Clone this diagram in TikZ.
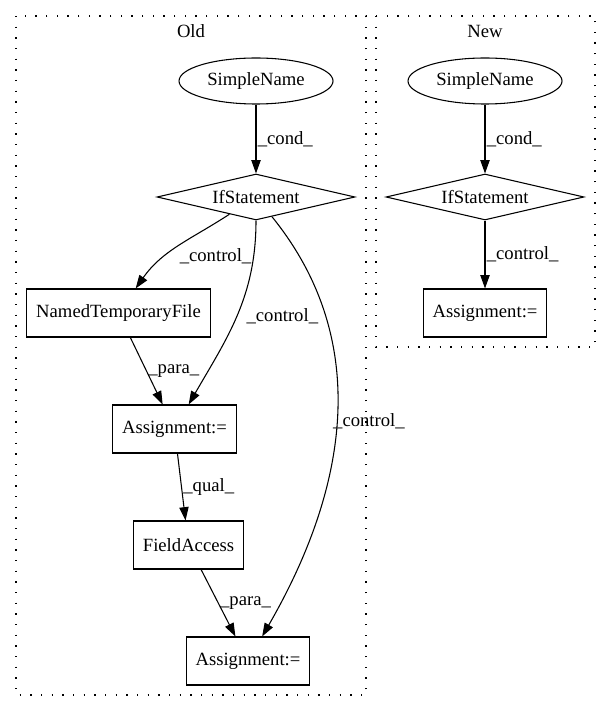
\documentclass[tikz,border=0pt]{standalone}
\usepackage{fontspec}
\setmainfont{Liberation Serif}
\usetikzlibrary{shapes.geometric,arrows.meta}

\tikzset{
  ast/.style={draw, line width=0.8pt, font=\fontsize{14}{16}\selectfont, inner sep=0pt},
  namenode/.style={ast, ellipse, minimum width=115.5pt, minimum height=34.5pt},
  ifnode/.style={ast, diamond, aspect=4.3, minimum width=148.5pt, minimum height=34.5pt},
  stmtnode/.style={ast, rectangle, minimum height=36pt, inner xsep=7pt},
  flow/.style={-{Triangle[length=10pt,width=7pt]}, line width=0.8pt},
  lbl/.style={font=\fontsize{14}{16}\selectfont, anchor=west, inner sep=1pt},
  cluster/.style={line width=0.8pt, dash pattern=on 1pt off 7pt},
}

\begin{document}
\begin{tikzpicture}[x=0.75pt, y=0.75pt]
      \useasboundingbox (0,0) rectangle (611,-712);

      % clusters
      \draw[cluster] (16,-16) rectangle (366,-695);
      \draw[cluster] (376,-16) rectangle (595,-347);
      \node[lbl, anchor=center] (oldtitle) at (191,-31) {Old};
      \node[lbl, anchor=center] (newtitle) at (485,-31) {New};

      % old version
      \node[namenode] (oldname) at (256,-81) {SimpleName};
      \node[ifnode] (oldif) at (256,-197) {IfStatement};
      \node[stmtnode] (tmpfile) at (118.5,-313) {NamedTemporaryFile};
      \node[stmtnode] (oldassign) at (174.5,-429) {Assignment:=};
      \node[stmtnode] (field) at (188.5,-545) {FieldAccess};
      \node[stmtnode] (lastassign) at (248,-661) {Assignment:=};

      % new version
      \node[namenode] (newname) at (485,-81) {SimpleName};
      \node[ifnode] (newif) at (485,-197) {IfStatement};
      \node[stmtnode] (newassign) at (485,-313) {Assignment:=};

      \draw[flow]
        (oldname) edge node[lbl] {\_cond\_} (oldif)
        (oldif) edge[out=213, in=55] node[lbl, anchor=north west] {\_control\_} (tmpfile)
        (oldif) edge[out=-90, in=60] node[lbl, xshift=6pt] {\_control\_} (oldassign)
        (oldif) edge[out=-51, in=60] node[lbl, xshift=-4pt] {\_control\_} (lastassign)
        (tmpfile) edge node[lbl] {\_para\_} (oldassign)
        (oldassign) edge node[lbl] {\_qual\_} (field)
        (field) edge node[lbl] {\_para\_} (lastassign);

      \draw[flow]
        (newname) edge node[lbl] {\_cond\_} (newif)
        (newif) edge node[lbl] {\_control\_} (newassign);
\end{tikzpicture}
\end{document}
